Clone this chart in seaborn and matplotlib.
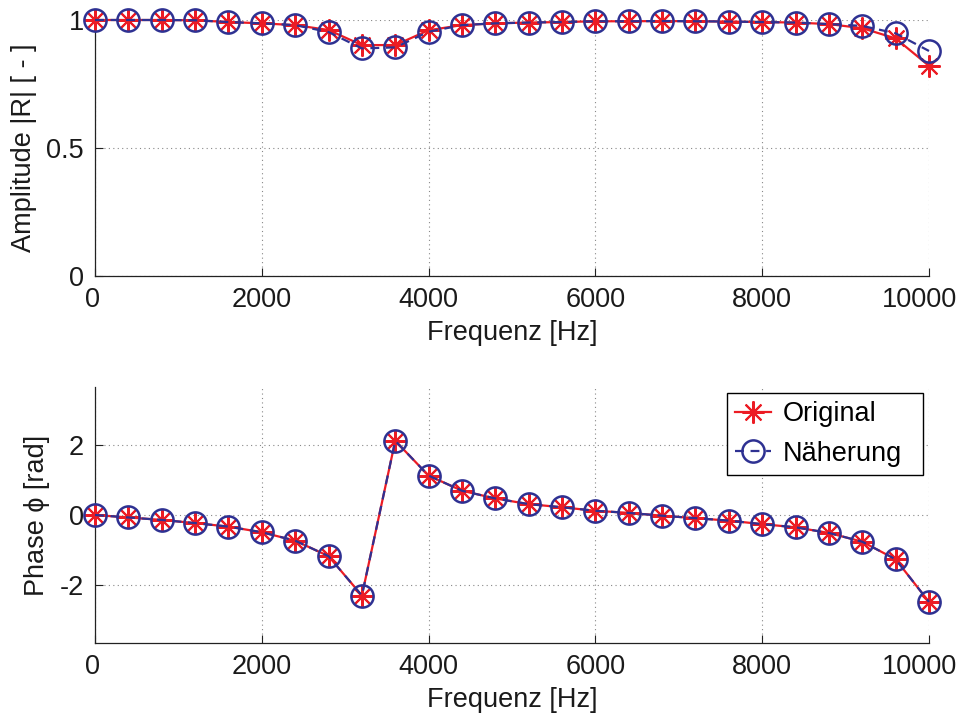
import numpy as np
import pandas as pd
import matplotlib
matplotlib.use("Agg")
import matplotlib.pyplot as plt
import matplotlib.transforms as mtransforms
import seaborn as sns

# ---- data ----
freq = [0, 400, 800, 1200, 1600, 2000, 2400, 2800, 3200, 3600, 4000, 4400, 4800,
        5200, 5600, 6000, 6400, 6800, 7200, 7600, 8000, 8400, 8800, 9200, 9600, 10000]
amp_orig = [1.0, 1.0, 1.0, 0.999, 0.992, 0.987, 0.98, 0.961, 0.902, 0.902, 0.96, 0.98, 0.987,
            0.99, 0.992, 0.995, 0.995, 0.996, 0.995, 0.994, 0.992, 0.99, 0.984, 0.968, 0.928, 0.821]
amp_appr = [1.0, 1.0, 1.0, 0.999, 0.992, 0.987, 0.98, 0.953, 0.889, 0.893, 0.954, 0.98, 0.987,
            0.99, 0.992, 0.995, 0.995, 0.996, 0.995, 0.994, 0.992, 0.99, 0.984, 0.977, 0.948, 0.879]
phase_orig = [0.0, -0.07, -0.14, -0.23, -0.33, -0.49, -0.73, -1.17, -2.29, 2.11, 1.12, 0.69, 0.47,
              0.31, 0.22, 0.12, 0.06, -0.02, -0.09, -0.16, -0.26, -0.35, -0.51, -0.76, -1.26, -2.47]
phase_appr = list(phase_orig)
xticks = [0, 2000, 4000, 6000, 8000, 10000]
amp_ticks = [0, 0.5, 1]
amp_ticklabels = ["0", "0.5", "1"]
phase_ticks = [-2, 0, 2]
labels = ["Original", "Näherung"]

plt.rcParams['font.family'] = ['Liberation Sans', 'DejaVu Sans']
plt.rcParams['axes.unicode_minus'] = False
FS = 19.5
RED = '#ec1c24'
BLUE = '#2e3192'
TXT = '#1a1a1a'

fig = plt.figure(figsize=(9.59, 7.13), dpi=100)
W, H = 959, 713
def axrect(l, t, r, b):
    return [l / W, 1 - b / H, (r - l) / W, (b - t) / H]

ax1 = fig.add_axes(axrect(95, 20, 929, 276))
ax2 = fig.add_axes(axrect(95, 387, 929, 643))

def draw(ax, y_o, y_a):
    sns.lineplot(x=freq, y=y_o, ax=ax, color=RED, linestyle='-', linewidth=1.6,
                 marker=(8, 2, 0), markersize=16, markeredgewidth=1.5,
                 markeredgecolor=RED, label=labels[0], clip_on=False, zorder=3)
    sns.lineplot(x=freq, y=y_a, ax=ax, color=BLUE, linestyle=(0, (4, 3)), linewidth=1.6,
                 marker='o', markersize=16, markerfacecolor='none', markeredgewidth=1.8,
                 markeredgecolor=BLUE, label=labels[1], clip_on=False, zorder=4)

def style(ax):
    ax.set_xlim(0, 10000)
    ax.set_xticks(xticks)
    ax.grid(True, linestyle=(0, (1, 3)), color='#888888', linewidth=0.8)
    for s in ['top', 'right']:
        ax.spines[s].set_visible(False)
    for s in ['left', 'bottom']:
        ax.spines[s].set_color('#222222')
        ax.spines[s].set_linewidth(0.9)
    ax.tick_params(direction='in', length=6, width=0.8, labelsize=FS, pad=8, colors='#222222',
                   labelcolor=TXT)
    ax.set_xlabel('Frequenz [Hz]', fontsize=FS, labelpad=5, color=TXT)
    ax.set_axisbelow(True)
    fig.canvas.draw()
    lbls = ax.get_xticklabels()
    off_last = mtransforms.ScaledTranslation(-9 / 100, 0, fig.dpi_scale_trans)
    off_first = mtransforms.ScaledTranslation(-2 / 100, 0, fig.dpi_scale_trans)
    lbls[-1].set_transform(lbls[-1].get_transform() + off_last)
    lbls[0].set_transform(lbls[0].get_transform() + off_first)

draw(ax1, amp_orig, amp_appr)
ax1.set_ylim(0, 1)
ax1.set_yticks(amp_ticks)
ax1.set_yticklabels(amp_ticklabels)
ax1.set_ylabel('Amplitude |R| [ - ]', fontsize=FS, labelpad=7, color=TXT)
ax1.get_legend().remove()
style(ax1)

draw(ax2, phase_orig, phase_appr)
ax2.set_ylim(-3.64, 3.64)
ax2.set_yticks(phase_ticks)
ax2.set_ylabel('Phase ϕ [rad]', fontsize=FS, labelpad=7, color=TXT)
style(ax2)
leg = ax2.legend(loc='upper left', bbox_to_anchor=(0.758, 0.0, 0.235, 0.977), mode='expand',
                 fontsize=FS, frameon=True, fancybox=False, edgecolor='black', framealpha=1,
                 handlelength=1.3, borderpad=0.3, labelspacing=0.5, handletextpad=0.45,
                 borderaxespad=0)
leg.get_frame().set_linewidth(1.0)

fig.savefig('out.png', dpi=100)
